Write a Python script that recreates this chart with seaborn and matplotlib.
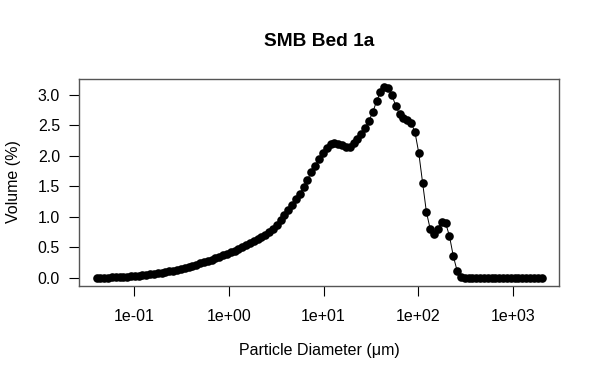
import matplotlib
matplotlib.use("Agg")
import matplotlib.pyplot as plt
import seaborn as sns
import pandas as pd

# Channel diameters (µm), log-spaced laser diffraction bins
diameter_um = [
    0.040, 0.044, 0.048, 0.053, 0.058, 0.064, 0.070, 0.077, 0.084, 0.093,
    0.102, 0.112, 0.122, 0.134, 0.148, 0.162, 0.178, 0.195, 0.214, 0.235,
    0.258, 0.284, 0.311, 0.342, 0.375, 0.412, 0.452, 0.496, 0.545, 0.598,
    0.657, 0.721, 0.791, 0.869, 0.954, 1.047, 1.149, 1.261, 1.385, 1.520,
    1.669, 1.832, 2.011, 2.207, 2.423, 2.660, 2.920, 3.205, 3.519, 3.863,
    4.240, 4.655, 5.110, 5.610, 6.158, 6.760, 7.421, 8.147, 8.943, 9.818,
    10.78, 11.83, 12.99, 14.26, 15.65, 17.18, 18.86, 20.71, 22.73, 24.95,
    27.39, 30.07, 33.01, 36.24, 39.78, 43.67, 47.94, 52.62, 57.77, 63.42,
    69.62, 76.43, 83.90, 92.10, 101.1, 111.0, 121.8, 133.7, 146.8, 161.2,
    176.9, 194.2, 213.2, 234.1, 256.9, 282.1, 309.6, 339.9, 373.1, 409.6,
    449.7, 493.6, 541.9, 594.9, 653.0, 716.9, 786.9, 863.9, 948.3, 1041,
    1143, 1255, 1377, 1512, 1660, 1822, 2000,
]

# Volume (%) per channel
volume_pct = [
    0.00, 0.00, 0.00, 0.00, 0.01, 0.01, 0.01, 0.02, 0.02, 0.03,
    0.03, 0.04, 0.05, 0.05, 0.06, 0.07, 0.08, 0.09, 0.10, 0.11,
    0.12, 0.13, 0.15, 0.16, 0.18, 0.20, 0.22, 0.24, 0.26, 0.28,
    0.30, 0.32, 0.35, 0.37, 0.40, 0.42, 0.45, 0.48, 0.51, 0.54,
    0.57, 0.60, 0.64, 0.67, 0.71, 0.75, 0.80, 0.87, 0.95, 1.03,
    1.11, 1.20, 1.29, 1.38, 1.49, 1.61, 1.73, 1.83, 1.95, 2.05,
    2.13, 2.19, 2.21, 2.20, 2.17, 2.14, 2.15, 2.21, 2.28, 2.36,
    2.45, 2.57, 2.71, 2.89, 3.04, 3.13, 3.11, 2.99, 2.82, 2.68,
    2.61, 2.58, 2.54, 2.39, 2.05, 1.56, 1.08, 0.80, 0.72, 0.81,
    0.92, 0.90, 0.69, 0.36, 0.12, 0.02, 0.00, 0.00, 0.00, 0.00,
    0.00, 0.00, 0.00, 0.00, 0.00, 0.00, 0.00, 0.00, 0.00, 0.00,
    0.00, 0.00, 0.00, 0.00, 0.00, 0.00, 0.00,
]

x_ticks = [0.1, 1, 10, 100, 1000]
x_tick_labels = ["1e-01", "1e+00", "1e+01", "1e+02", "1e+03"]
y_ticks = [0.0, 0.5, 1.0, 1.5, 2.0, 2.5, 3.0]
y_tick_labels = ["0.0", "0.5", "1.0", "1.5", "2.0", "2.5", "3.0"]

title = "SMB Bed 1a"
x_label = "Particle Diameter (μm)"
y_label = "Volume (%)"

sns.set_style("white")
plt.rcParams["font.family"] = ["Liberation Sans", "DejaVu Sans"]
plt.rcParams["text.color"] = "black"

df = pd.DataFrame({"d": diameter_um, "v": volume_pct})

fig = plt.figure(figsize=(6, 3.84), dpi=100)
ax = fig.add_axes([78.7 / 600, 1 - 285.7 / 384, (559.3 - 78.7) / 600, (285.7 - 79) / 384])

sns.lineplot(data=df, x="d", y="v", ax=ax, color="black", linewidth=0.7,
             marker="o", markersize=6.2, markeredgewidth=0, markerfacecolor="black",
             legend=False)

ax.set_xscale("log")
ax.margins(x=0.04, y=0.04)
ax.set_xticks(x_ticks)
ax.set_xticklabels(x_tick_labels)
ax.minorticks_off()
ax.set_yticks(y_ticks)
ax.set_yticklabels(y_tick_labels)
ax.set_xlabel("")
ax.set_ylabel("")

ax.tick_params(axis="both", which="major", bottom=True, left=True, top=False, right=False,
               direction="out", length=7.5, width=0.8, color="black",
               labelsize=11.5, labelcolor="black")
ax.tick_params(axis="x", pad=9)
ax.tick_params(axis="y", pad=6)
ax.grid(False)
for s in ax.spines.values():
    s.set_color("#555555")
    s.set_linewidth(1.0)
    s.set_visible(True)

fig.text(319 / 600, 1 - 41.5 / 384, title, ha="center", va="center",
         fontsize=13.8, fontweight="bold", color="black")
fig.text(319 / 600, 1 - 350 / 384, x_label, ha="center", va="center", fontsize=11.5,
         color="black")
fig.text(14 / 600, 1 - 182 / 384, y_label, ha="center", va="center", fontsize=11.5,
         rotation=90, color="black")

fig.savefig("out.png", dpi=100, facecolor="white")
